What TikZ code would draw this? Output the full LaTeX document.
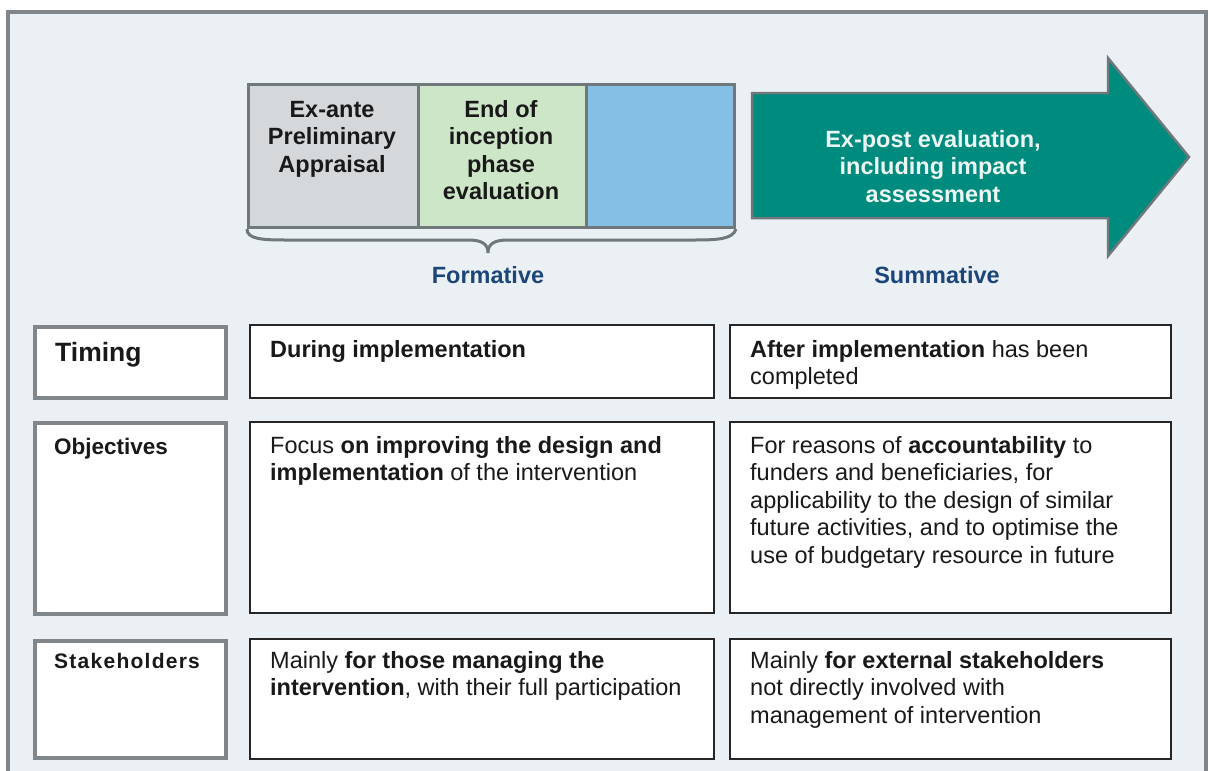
\documentclass[tikz,border=0pt]{standalone}
\usepackage{fontspec}
\setmainfont{Liberation Sans}
\newfontfamily\lsfont[LetterSpace=6]{Liberation Sans}
\definecolor{bgpanel}{RGB}{234,240,244}
\definecolor{framegray}{RGB}{128,134,138}
\definecolor{boxgray}{RGB}{112,120,124}
\definecolor{greyfill}{RGB}{213,216,219}
\definecolor{greenfill}{RGB}{206,230,200}
\definecolor{bluefill}{RGB}{134,191,230}
\definecolor{tealfill}{RGB}{0,139,127}
\definecolor{navy}{RGB}{28,70,122}
\definecolor{txtdark}{RGB}{25,25,25}
\definecolor{arrowtxt}{RGB}{236,246,242}
\newcommand{\blk}[2]{\parbox[t]{#1}{\raggedright #2}}
\newcommand{\cblk}[2]{\parbox[t]{#1}{\centering #2}}
\tikzset{
  txt/.style={anchor=base west, inner sep=0pt, text=txtdark, font=\fontsize{23.5}{27.5}\selectfont},
  ctxt/.style={anchor=base, inner sep=0pt, text=txtdark, font=\fontsize{23.5}{27.5}\selectfont\bfseries},
  phasebox/.style={draw=boxgray, line width=3pt, anchor=north west, inner sep=0pt},
  labelbox/.style={draw=framegray, fill=white, line width=3.5pt, anchor=north west, inner sep=0pt, minimum width=191pt},
  cellbox/.style={draw=black!85, fill=white, line width=2.2pt, anchor=north west, inner sep=0pt},
  headtxt/.style={anchor=base, inner sep=0pt, text=navy, font=\fontsize{23.5}{27.5}\selectfont\bfseries}
}
\begin{document}
\begin{tikzpicture}[x=1pt,y=-1pt]
\useasboundingbox (0,0) rectangle (1208,771);
\clip (0,0) rectangle (1208,771);
\fill[white] (0,0) rectangle (1208,771);
\draw[draw=framegray, fill=bgpanel, line width=3.5pt] (8,12) rectangle (1206,800);

% phase boxes
\node[phasebox, fill=greyfill, minimum width=170pt, minimum height=143pt] (grey) at (247,83) {};
\node[phasebox, fill=greenfill, minimum width=168pt, minimum height=143pt] (green) at (417,83) {};
\node[phasebox, fill=bluefill, minimum width=148pt, minimum height=143pt] (blue) at (585,83) {};
\node[ctxt] (exante) at (332,117) {\cblk{165pt}{Ex-ante\\Preliminary\\Appraisal}};
\node[ctxt] (endinc) at (501,117) {\cblk{165pt}{End of\\inception\\phase\\evaluation}};

% brace
\coordinate (bl) at (grey.south west);
\coordinate (br) at (blue.south east);
\coordinate (btip) at (488,253);
\draw[draw=boxgray, line width=3pt]
  (bl) .. controls (247,239) and (262,240) .. (285,240) -- (468,240)
  .. controls (482,240) and (488,244) .. (btip)
  .. controls (488,244) and (494,240) .. (508,240) -- (695,240)
  .. controls (718,240) and (733,239) .. (br);
\node[headtxt] (formative) at (488,283) {Formative};

% big arrow
\draw[draw=boxgray, fill=tealfill, line width=2.5pt, line join=miter]
  (752,93) -- (1108,93) -- (1108,58) -- (1189,157) -- (1108,256) -- (1108,218) -- (752,218) -- cycle;
\node[ctxt, text=arrowtxt] (expost) at (933,147) {\cblk{300pt}{Ex-post evaluation,\\including impact\\assessment}};
\node[headtxt] (summative) at (937,283) {Summative};

% row label boxes
\node[labelbox, minimum height=71pt] (lt) at (33,325) {};
\node[labelbox, minimum height=191pt] (lo) at (33,421) {};
\node[labelbox, minimum height=117pt] (ls) at (33,639) {};
\node[txt, font=\fontsize{26.5}{30}\selectfont\bfseries] (timing) at (55,361) {Timing};
\node[txt, font=\fontsize{22.5}{27.5}\selectfont\bfseries] (objectives) at (54,454) {Objectives};
\node[txt, font=\fontsize{21}{27.5}\lsfont\bfseries] (stake) at (54,668) {Stakeholders};

% middle cells
\node[cellbox, minimum width=464pt, minimum height=73pt] (mt) at (248.5,323.5) {};
\node[cellbox, minimum width=464pt, minimum height=191pt] (mo) at (248.5,421) {};
\node[cellbox, minimum width=464pt, minimum height=120pt] (ms) at (248.5,637.5) {};
\node[txt] (mtt) at (270,357) {\blk{440pt}{\textbf{During implementation}}};
\node[txt] (mot) at (270,453) {\blk{440pt}{Focus \textbf{on improving the design and}\\\textbf{implementation} of the intervention}};
\node[txt] (mst) at (270,668) {\blk{440pt}{Mainly \textbf{for those managing the}\\\textbf{intervention}, with their full participation}};

% right cells
\node[cellbox, minimum width=441pt, minimum height=73pt] (rt) at (729,323.5) {};
\node[cellbox, minimum width=441pt, minimum height=191pt] (ro) at (729,421) {};
\node[cellbox, minimum width=441pt, minimum height=120pt] (rs) at (729,637.5) {};
\node[txt] (rtt) at (750,357) {\blk{420pt}{\textbf{After implementation} has been\\completed}};
\node[txt] (rot) at (750,453) {\blk{420pt}{For reasons of \textbf{accountability} to\\funders and beneficiaries, for\\applicability to the design of similar\\future activities, and to optimise the\\use of budgetary resource in future}};
\node[txt] (rst) at (750,668) {\blk{420pt}{Mainly \textbf{for external stakeholders}\\not directly involved with\\management of intervention}};
\end{tikzpicture}
\end{document}
